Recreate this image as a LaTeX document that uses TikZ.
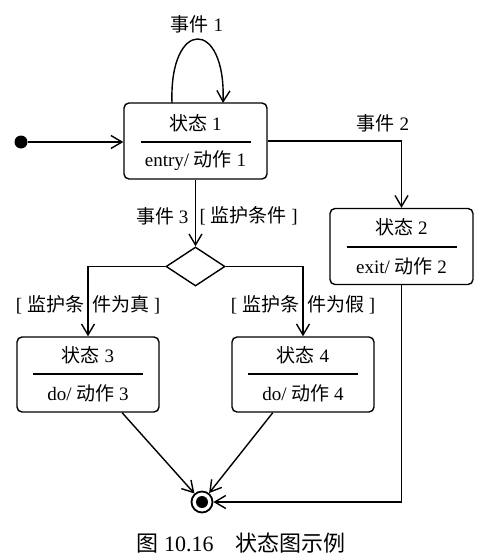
\documentclass[tikz,border=0pt]{standalone}
\usepackage{fontspec}
\setmainfont{Liberation Serif}
\newfontfamily\cjk{Noto Sans CJK SC}
\newcommand{\zh}[1]{{\cjk #1}}
\usetikzlibrary{arrows.meta, shapes.geometric}

\tikzset{
  state/.style={draw, line width=1.4pt, rounded corners=5pt, minimum width=143pt, minimum height=76pt},
  choice/.style={draw, line width=1.4pt, diamond, minimum width=59pt, minimum height=39pt, inner sep=0pt},
  initdot/.style={circle, fill, minimum size=13pt, inner sep=0pt},
  finaldot/.style={circle, draw, line width=1.8pt, minimum size=21pt, inner sep=0pt,
    path picture={\fill (path picture bounding box.center) circle (6pt);}},
  trans/.style={line width=1.4pt, -{Straight Barb[length=11pt,width=13pt]}},
  sep/.style={line width=1.4pt},
}

\begin{document}
\begin{tikzpicture}[x=1pt, y=-1pt, font=\fontsize{19}{22}\selectfont]
  \useasboundingbox (0,0) rectangle (477,559);

  % states
  \node[state] (s1) at (195.5,141) {};
  \node (s1t) at (195.5,123) {\zh{状态} 1};
  \node (s1a) at (195.5,161) {entry/ \zh{动作} 1};
  \draw[sep] (140.5,142) -- (250.5,142);

  \node[state] (s2) at (401.5,246.5) {};
  \node (s2t) at (401.5,227) {\zh{状态} 2};
  \node (s2a) at (401.5,266) {exit/ \zh{动作} 2};
  \draw[sep] (346.5,247) -- (456.5,247);

  \node[state, minimum width=142pt, minimum height=75pt] (s3) at (88,374.5) {};
  \node (s3t) at (88,355) {\zh{状态} 3};
  \node (s3a) at (88,393) {do/ \zh{动作} 3};
  \draw[sep] (33,374) -- (143,374);

  \node[state, minimum width=142pt, minimum height=75pt] (s4) at (303,374.5) {};
  \node (s4t) at (303,355) {\zh{状态} 4};
  \node (s4a) at (303,393) {do/ \zh{动作} 4};
  \draw[sep] (248,374) -- (358,374);

  % pseudo states
  \node[initdot] (init) at (21,142) {};
  \node[choice] (ch) at (195.5,266.5) {};
  \node[finaldot] (fin) at (202,502) {};

  % transitions
  \draw[trans] (init) -- (s1.west |- init);
  \draw[trans] (172,103) .. controls (169,18) and (226,18) .. (223,103);
  \node (e1) at (197,24) {\zh{事件} 1};
  \draw[trans] (s1.east) -| (s2.north);
  \node (e2) at (383,123) {\zh{事件} 2};
  \draw[trans] (s1.south) -- (ch.north);
  \node[anchor=east] (e3) at (192,216) {\zh{事件} 3};
  \node[anchor=west] (g3) at (196,216) {[ \zh{监护条件} ]};
  \draw[trans] (ch.west) -| (s3.north);
  \node (gt) at (88,305) {[ \zh{监护条}\hspace{8pt}\zh{件为真} ]};
  \draw[trans] (ch.east) -| (s4.north);
  \node (gf) at (303,305) {[ \zh{监护条}\hspace{8pt}\zh{件为假} ]};
  \draw[trans] (s3) -- (fin);
  \draw[trans] (s4) -- (fin);
  \draw[trans] (s2.south) |- (fin);

  % caption
  \node (cap) at (241,543) {\fontsize{22}{26}\selectfont\zh{图} 10.16\quad\zh{状态图示例}};
\end{tikzpicture}
\end{document}
